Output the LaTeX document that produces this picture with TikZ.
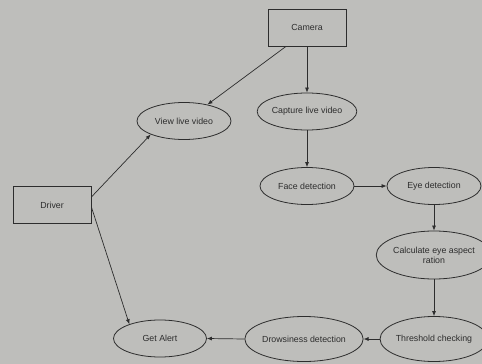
\documentclass[tikz,border=0pt]{standalone}
\usepackage{fontspec}
\setmainfont{Liberation Sans}
\usetikzlibrary{shapes.geometric,arrows.meta}
\definecolor{paper}{RGB}{190,190,187}
\definecolor{ink}{RGB}{45,45,45}
\begin{document}
\begin{tikzpicture}[x=1pt,y=-1pt,
  every node/.style={font=\fontsize{8.8}{9.8}\selectfont, text=ink},
  block/.style={draw=ink, line width=0.8pt, rectangle, minimum width=78pt, minimum height=37pt, inner sep=0pt},
  task/.style={draw=ink, line width=0.8pt, ellipse, minimum width=94pt, minimum height=37pt, inner sep=0pt, align=center},
  flow/.style={draw=ink, line width=0.7pt, -{Latex[length=5pt,width=4pt]}}]
  % sheet
  \fill[paper] (0,0) rectangle (482,364);
  \useasboundingbox (0,0) rectangle (482,364);

  % actors
  \node[block] (cam) at (307,27.5) {Camera};
  \node[block] (drv) at (52,205) {Driver};

  % processing steps
  \node[task] (view) at (184,121) {View live video};
  \node[task] (cap) at (307,111.5) {Capture live video};
  \node[task] (face) at (307,186) {Face detection};
  \node[task] (eye) at (434,186) {Eye detection};
  \node[task, minimum width=100pt, minimum height=48pt] (ear) at (434,255) {Calculate eye aspect\\ration};
  \node[task, minimum width=100pt, minimum height=45pt] (thr) at (434,339) {Threshold checking};
  \node[task, minimum width=100pt, minimum height=45pt] (drow) at (304,339) {Drowsiness detection};
  \node[task, minimum width=93pt] (alert) at (160,338.5) {Get Alert};

  % connectors
  \draw[flow] ([xshift=-21pt]cam.south) -- (view.35);
  \draw[flow] (cam.south) -- (cap.north);
  \draw[flow] (cap.south) -- (face.north);
  \draw[flow] (face.east) -- (eye.west);
  \draw[flow] (eye.south) -- (ear.north);
  \draw[flow] (ear.south) -- (thr.north);
  \draw[flow] (thr.west) -- (drow.east);
  \draw[flow] (drow.west) -- (alert.east);
  \draw[flow] ([yshift=8pt]drv.east) -- (view.202);
  \draw[flow] ([yshift=-2pt]drv.east) -- (alert.155);
\end{tikzpicture}
\end{document}
